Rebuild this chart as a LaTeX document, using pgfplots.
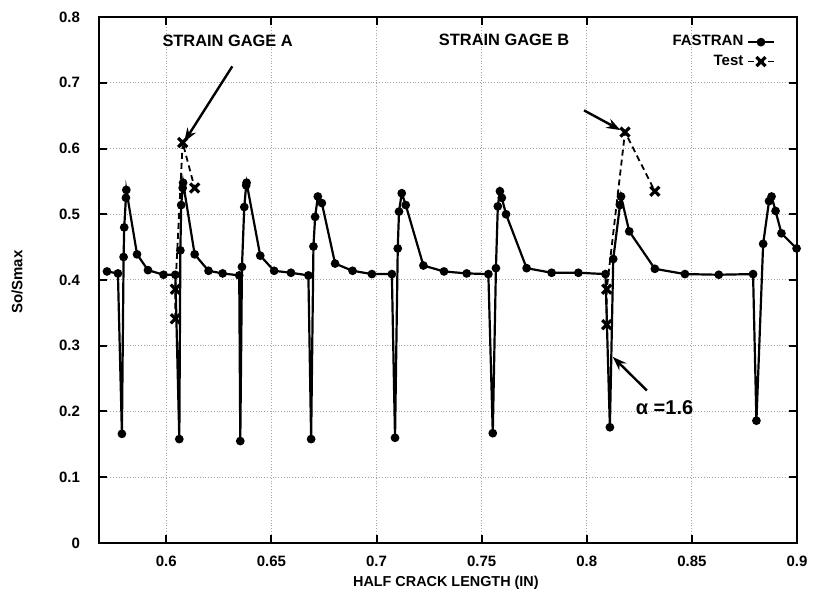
\documentclass[border=0pt]{standalone}
\usepackage{fontspec}
\setmainfont{Liberation Sans}
\usepackage{pgfplots}
\pgfplotsset{compat=1.18}
\usetikzlibrary{arrows.meta}
\pgfplotstableread{
x y
0.5718 0.413
0.5770 0.410
0.5789 0.166
0.5797 0.435
0.5800 0.480
0.5808 0.525
0.5810 0.537
0.5861 0.439
0.5913 0.415
0.5987 0.408
0.6043 0.408
0.6062 0.158
0.6067 0.445
0.6071 0.514
0.6078 0.540
0.6080 0.548
0.6135 0.439
0.6201 0.414
0.6268 0.410
0.6347 0.407
0.6352 0.155
0.6360 0.420
0.6371 0.511
0.6380 0.544
0.6382 0.548
0.6447 0.437
0.6513 0.414
0.6593 0.411
0.6676 0.407
0.6689 0.158
0.6700 0.451
0.6708 0.496
0.6721 0.527
0.6740 0.517
0.6803 0.425
0.6886 0.414
0.6978 0.409
0.7073 0.409
0.7088 0.160
0.7101 0.448
0.7107 0.504
0.7120 0.532
0.7139 0.514
0.7223 0.422
0.7321 0.413
0.7429 0.410
0.7532 0.409
0.7553 0.167
0.7568 0.418
0.7577 0.512
0.7587 0.535
0.7596 0.525
0.7616 0.500
0.7714 0.418
0.7833 0.411
0.7960 0.411
0.8089 0.409
0.8110 0.176
0.8126 0.432
0.8158 0.514
0.8163 0.527
0.8202 0.474
0.8324 0.417
0.8467 0.409
0.8628 0.408
0.8791 0.409
0.8807 0.186
0.8839 0.455
0.8867 0.520
0.8879 0.527
0.8898 0.505
0.8926 0.471
0.8998 0.448
}\fastran
\pgfplotstableread{
x y
0.6043 0.341
0.6043 0.386
0.6078 0.609
0.6135 0.540
}\testA
\pgfplotstableread{
x y
0.8095 0.332
0.8095 0.386
0.8182 0.625
0.8324 0.535
}\testB
\begin{document}
\begin{tikzpicture}[font=\bfseries\fontsize{7.5}{9}\selectfont]
\path[use as bounding box] (-49.5pt,-27pt) rectangle (358pt,271.5pt);
\begin{axis}[
  scale only axis, width=349pt, height=263pt,
  xmin=0.568, xmax=0.9, ymin=0, ymax=0.8,
  xtick={0.6,0.65,0.7,0.75,0.8,0.85,0.9},
  xticklabels={0.6,0.65,0.7,0.75,0.8,0.85,0.9},
  ytick={0,0.1,0.2,0.3,0.4,0.5,0.6,0.7,0.8},
  yticklabels={0,0.1,0.2,0.3,0.4,0.5,0.6,0.7,0.8},
  tick align=inside, major tick length=4pt,
  tick style={line width=1pt, black},
  axis line style={line width=1.2pt},
  grid=major, grid style={densely dotted, gray!70, line width=0.5pt},
  ticklabel style={font=\bfseries\fontsize{7.5}{9}\selectfont},
  xticklabel style={yshift=-3pt},
  yticklabel style={xshift=-6pt},
  xlabel={HALF CRACK LENGTH (IN)},
  ylabel={So/Smax},
  xlabel style={at={(axis description cs:0.497,0)}, anchor=center, yshift=-20pt, font=\bfseries\fontsize{7.2}{9}\selectfont},
  ylabel style={at={(axis description cs:0,0.496)}, anchor=center, yshift=41pt, font=\bfseries\fontsize{7.5}{9}\selectfont},
  legend plot pos=right,
  legend cell align=right,
  legend style={draw=none, fill=none, at={(1,1)}, anchor=north east, xshift=-11pt, yshift=-7pt, inner sep=0pt, row sep=-1pt, font=\bfseries\fontsize{7.5}{9}\selectfont},
  legend image code/.code={\draw[mark repeat=2,mark phase=2] plot coordinates {(0cm,0cm)(0.22cm,0cm)(0.44cm,0cm)};},
]
\addplot[black, line width=1.1pt, mark=*, mark size=1.6pt] table[x=x,y=y] {\fastran};
\addlegendentry{FASTRAN}
\addplot[black, line width=0.9pt, densely dashed, mark=x, mark size=3.2pt, mark options={solid, line width=1.6pt}] table[x=x,y=y] {\testA};
\addlegendentry{Test}
\addplot[black, line width=0.9pt, densely dashed, mark=x, mark size=3.2pt, mark options={solid, line width=1.6pt}, forget plot] table[x=x,y=y] {\testB};
\node[font=\bfseries\fontsize{8.2}{9}\selectfont] at (axis cs:0.6292,0.764) {STRAIN GAGE A};
\node[font=\bfseries\fontsize{8.2}{9}\selectfont] at (axis cs:0.7607,0.765) {STRAIN GAGE B};
\node[font=\bfseries\fontsize{10}{11}\selectfont] at (axis cs:0.8370,0.206) {α =1.6};
\draw[line width=1.2pt, -{Stealth[length=7pt,width=5pt]}] (axis cs:0.6314,0.725) -- (axis cs:0.6085,0.610);
\draw[line width=1.2pt, -{Stealth[length=7pt,width=5pt]}] (axis cs:0.7987,0.658) -- (axis cs:0.8160,0.628);
\draw[line width=1.2pt, -{Stealth[length=7pt,width=5pt]}] (axis cs:0.8286,0.232) -- (axis cs:0.8124,0.283);
\end{axis}
\end{tikzpicture}
\end{document}
